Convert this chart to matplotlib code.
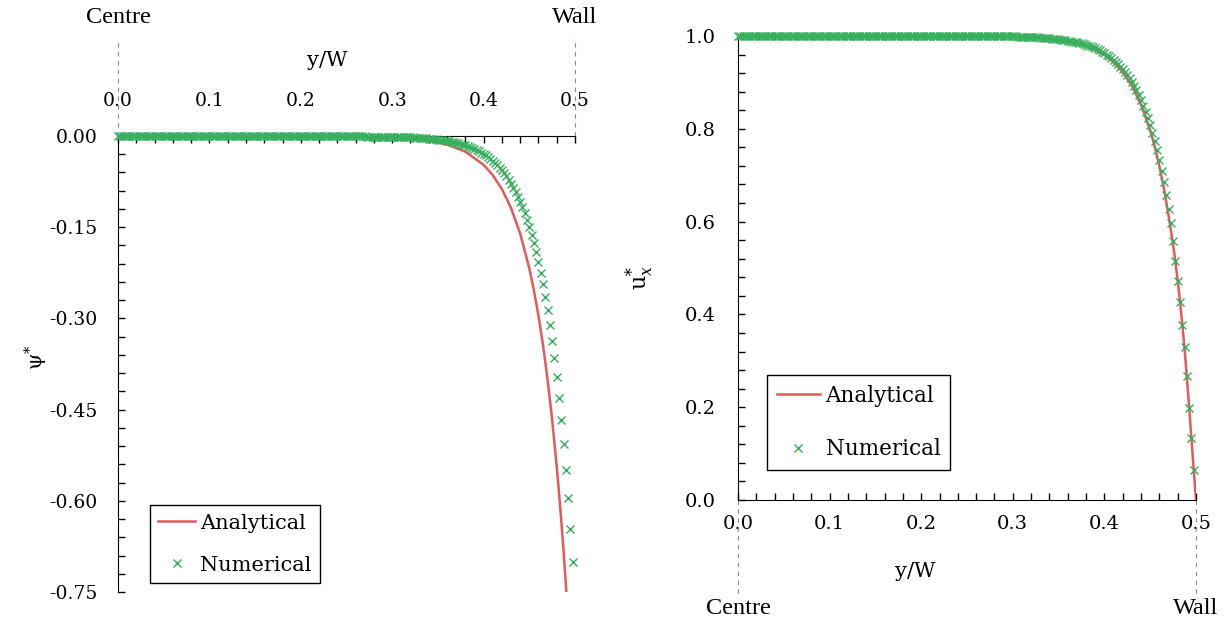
import numpy as np
import matplotlib
matplotlib.use('Agg')
import matplotlib.pyplot as plt
from matplotlib.ticker import MultipleLocator, FormatStrFormatter

plt.rcParams['font.family'] = ['DejaVu Serif']
plt.rcParams['mathtext.fontset'] = 'dejavuserif'

# ---------------- data ----------------
grid_step = 0.0025  # spacing of the numerical points in y/W

# left panel: psi* -- numerical (x from 0 to 0.4975)
psi_num = [
    0.0, 0.0, 0.0, 0.0, 0.0, 0.0, 0.0, 0.0, 0.0, 0.0, 0.0, 0.0, 0.0, 0.0, 0.0, 0.0, 0.0, 0.0, 0.0, 0.0,
    0.0, 0.0, 0.0, 0.0, 0.0, 0.0, 0.0, 0.0, 0.0, 0.0, 0.0, 0.0, 0.0, 0.0, 0.0, 0.0, 0.0, 0.0, 0.0, 0.0,
    0.0, 0.0, 0.0, 0.0, 0.0, 0.0, 0.0, 0.0, 0.0, 0.0, 0.0, 0.0, 0.0, 0.0, 0.0, 0.0, 0.0, 0.0, 0.0, 0.0,
    0.0, 0.0, 0.0, 0.0, 0.0, 0.0, 0.0, 0.0, 0.0, 0.0, 0.0, 0.0, 0.0, 0.0, 0.0, 0.0, 0.0, 0.0, 0.0, 0.0,
    0.0, 0.0, 0.0, 0.0, 0.0, 0.0, 0.0, 0.0, 0.0, 0.0, 0.0, 0.0, 0.0, 0.0, 0.0, 0.0, 0.0, 0.0, 0.0, 0.0,
    -0.0005, -0.0005, -0.0005, -0.0006, -0.0006, -0.0007, -0.0007, -0.0008, -0.0008, -0.0009,
    -0.0009, -0.0009, -0.0010, -0.0010, -0.0010, -0.0010, -0.0010, -0.0011, -0.0011, -0.0011,
    -0.0011, -0.0012, -0.0013, -0.0015, -0.0016, -0.0017, -0.0019, -0.0020, -0.0022, -0.0024,
    -0.0026, -0.0028, -0.0030, -0.0033, -0.0036, -0.0039, -0.0042, -0.0045, -0.0049, -0.0054,
    -0.0058, -0.0063, -0.0068, -0.0074, -0.0080, -0.0087, -0.0095, -0.0103, -0.0111, -0.0121,
    -0.0131, -0.0142, -0.0154, -0.0167, -0.0181, -0.0196, -0.0213, -0.0231, -0.0251, -0.0272,
    -0.0295, -0.0320, -0.0347, -0.0376, -0.0408, -0.0443, -0.0480, -0.0521, -0.0565, -0.0613,
    -0.0664, -0.0721, -0.0782, -0.0848, -0.0919, -0.0997, -0.1082, -0.1173, -0.1272, -0.1380,
    -0.1497, -0.1624, -0.1761, -0.1910, -0.2072, -0.2247, -0.2437, -0.2643, -0.2867, -0.3110,
    -0.3373, -0.3658, -0.3968, -0.4304, -0.4668, -0.5063, -0.5491, -0.5956, -0.6460, -0.7007,
]

# left panel: psi* -- analytical curve
psi_ana_x = [0.0, 0.1, 0.2, 0.25, 0.30, 0.32, 0.34, 0.36, 0.38, 0.40, 0.41, 0.42, 0.43,
             0.44, 0.45, 0.455, 0.46, 0.465, 0.47, 0.475, 0.48, 0.4825, 0.485, 0.4875,
             0.49, 0.4925, 0.495, 0.4975, 0.5]
psi_ana_y = [0.0, 0.0, -0.0001, -0.0005, -0.0022, -0.0041, -0.0076, -0.0140, -0.0257,
             -0.0474, -0.0643, -0.0872, -0.1182, -0.1604, -0.2176, -0.2535, -0.2952,
             -0.3438, -0.4005, -0.4665, -0.5434, -0.5865, -0.6329, -0.6831, -0.7371,
             -0.7955, -0.8586, -0.9266, -1.0]

# right panel: u*_x -- numerical (x from 0 to 0.4975)
u_num = [
    1.0, 1.0, 1.0, 1.0, 1.0, 1.0, 1.0, 1.0, 1.0, 1.0, 1.0, 1.0, 1.0, 1.0, 1.0, 1.0, 1.0, 1.0, 1.0, 1.0,
    1.0, 1.0, 1.0, 1.0, 1.0, 1.0, 1.0, 1.0, 1.0, 1.0, 1.0, 1.0, 1.0, 1.0, 1.0, 1.0, 1.0, 1.0, 1.0, 1.0,
    1.0, 1.0, 1.0, 1.0, 1.0, 1.0, 1.0, 1.0, 1.0, 1.0, 1.0, 1.0, 1.0, 1.0, 1.0, 1.0, 1.0, 1.0, 1.0, 1.0,
    1.0, 1.0, 1.0, 1.0, 1.0, 1.0, 1.0, 1.0, 1.0, 1.0, 1.0, 1.0, 1.0, 1.0, 1.0, 1.0, 1.0, 1.0, 1.0, 1.0,
    1.0, 1.0, 1.0, 1.0, 1.0, 1.0, 1.0, 1.0, 1.0, 1.0, 1.0, 1.0, 1.0, 1.0, 1.0, 1.0, 1.0, 1.0, 1.0, 1.0,
    1.0, 1.0, 1.0, 1.0, 1.0, 1.0, 1.0, 1.0, 1.0, 1.0, 0.999, 0.999, 0.999, 0.999, 0.999, 0.999, 0.999, 0.999, 0.999, 0.999,
    0.999, 0.999, 0.998, 0.998, 0.998, 0.998, 0.998, 0.998, 0.997, 0.997,
    0.997, 0.997, 0.996, 0.996, 0.996, 0.995, 0.995, 0.994, 0.994, 0.993,
    0.993, 0.992, 0.992, 0.991, 0.990, 0.989, 0.988, 0.987, 0.986, 0.985,
    0.984, 0.982, 0.981, 0.979, 0.978, 0.976, 0.974, 0.971, 0.969, 0.966,
    0.963, 0.960, 0.957, 0.953, 0.949, 0.944, 0.940, 0.934, 0.929, 0.923,
    0.916, 0.909, 0.901, 0.892, 0.883, 0.873, 0.862, 0.850, 0.837, 0.823,
    0.808, 0.791, 0.774, 0.754, 0.733, 0.710, 0.685, 0.658, 0.628, 0.597,
    0.558, 0.516, 0.471, 0.426, 0.378, 0.330, 0.268, 0.199, 0.133, 0.064,
]

# right panel: u*_x -- analytical curve
u_ana_x = [0.0, 0.25, 0.30, 0.32, 0.34, 0.36, 0.38, 0.40, 0.41, 0.42, 0.43, 0.44, 0.45,
           0.455, 0.46, 0.465, 0.47, 0.475, 0.4775, 0.48, 0.4825, 0.485, 0.4875, 0.49,
           0.4925, 0.495, 0.4975, 0.5]
u_ana_y = [1.0, 1.0, 0.998, 0.997, 0.994, 0.989, 0.979, 0.959, 0.944, 0.922, 0.893, 0.852,
           0.797, 0.762, 0.720, 0.672, 0.614, 0.551, 0.514, 0.473, 0.428, 0.380, 0.326,
           0.266, 0.200, 0.133, 0.066, 0.0]

psi_ticks = [0.0, -0.15, -0.30, -0.45, -0.60, -0.75]
u_ticks = [0.0, 0.2, 0.4, 0.6, 0.8, 1.0]
x_ticks = [0.0, 0.1, 0.2, 0.3, 0.4, 0.5]

# ---------------- styling ----------------
RED = '#e25a5a'
GREEN = '#36b05c'
GUIDE = '#8a8a8a'
W, H = 1225, 624

fig = plt.figure(figsize=(W / 100, H / 100), dpi=100)
ax1 = fig.add_axes([118 / W, 1 - 592 / H, (575 - 118) / W, (592 - 136) / H])
ax2 = fig.add_axes([738 / W, 1 - 500 / H, (1196 - 738) / W, (500 - 36) / H])

x_num1 = np.arange(len(psi_num)) * grid_step
x_num2 = np.arange(len(u_num)) * grid_step

# ---- left panel ----
la, = ax1.plot(psi_ana_x, psi_ana_y, color=RED, lw=1.8, label='Analytical', zorder=3)
ln, = ax1.plot(x_num1, psi_num, ls='none', marker='x', ms=6, mew=1.0, color=GREEN,
               label='Numerical', clip_on=False, zorder=4)
ax1.set_xlim(0, 0.5)
ax1.set_ylim(-0.75, 0.0)
ax1.spines['bottom'].set_visible(False)
ax1.spines['right'].set_visible(False)
ax1.xaxis.tick_top()
ax1.xaxis.set_label_position('top')
ax1.set_xticks(x_ticks)
ax1.set_yticks(psi_ticks)
ax1.xaxis.set_minor_locator(MultipleLocator(0.02))
ax1.yaxis.set_minor_locator(MultipleLocator(0.03))
ax1.xaxis.set_major_formatter(FormatStrFormatter('%.1f'))
ax1.yaxis.set_major_formatter(FormatStrFormatter('%.2f'))
ax1.tick_params(axis='both', which='both', direction='in', length=5, width=1,
                labelsize=13.5, top=True, bottom=False, right=False)
ax1.tick_params(axis='x', which='major', pad=19)
ax1.tick_params(axis='y', which='major', pad=15)
ax1.set_xlabel('y/W', fontsize=15)
ax1.xaxis.set_label_coords(0.457, 1.153)
ax1.set_ylabel('ψ$^{*}$', fontsize=15)
ax1.yaxis.set_label_coords(-0.148, 0.515)
leg1 = ax1.legend([la, ln], ['Analytical', 'Numerical'], loc='lower left',
                  bbox_to_anchor=(0.07, 0.02), fancybox=False, edgecolor='black',
                  framealpha=1, fontsize=15, handlelength=1.75, handletextpad=0.25,
                  labelspacing=1.1, borderpad=0.4, numpoints=1, borderaxespad=0)
leg1.get_frame().set_linewidth(1.0)

xt1 = ax1.get_xaxis_transform()
for xv, txt in [(0.0, 'Centre'), (0.5, 'Wall')]:
    ax1.plot([xv, xv], [1.0, 1.215], transform=xt1, color=GUIDE, lw=0.8,
             ls=(0, (4, 4)), clip_on=False)
    ax1.text(xv, 1.259, txt, transform=xt1, ha='center', va='center',
             family='Liberation Serif', fontsize=17.5)

# ---- right panel ----
ra, = ax2.plot(u_ana_x, u_ana_y, color=RED, lw=1.8, label='Analytical', zorder=3)
rn, = ax2.plot(x_num2, u_num, ls='none', marker='x', ms=6, mew=1.0, color=GREEN,
               label='Numerical', clip_on=False, zorder=4)
ax2.set_xlim(0, 0.5)
ax2.set_ylim(0.0, 1.0)
ax2.spines['top'].set_visible(False)
ax2.spines['right'].set_visible(False)
ax2.set_xticks(x_ticks)
ax2.set_yticks(u_ticks)
ax2.xaxis.set_minor_locator(MultipleLocator(0.02))
ax2.yaxis.set_minor_locator(MultipleLocator(0.04))
ax2.xaxis.set_major_formatter(FormatStrFormatter('%.1f'))
ax2.yaxis.set_major_formatter(FormatStrFormatter('%.1f'))
ax2.tick_params(axis='both', which='both', direction='in', length=5, width=1,
                labelsize=14, top=False, right=False)
ax2.tick_params(axis='x', which='major', pad=11)
ax2.tick_params(axis='y', which='major', pad=16)
ax2.set_xlabel('y/W', fontsize=15)
ax2.xaxis.set_label_coords(0.386, -0.134)
ax2.set_ylabel('u$^{*}_{x}$', fontsize=16)
ax2.yaxis.set_label_coords(-0.178, 0.48)
leg2 = ax2.legend([ra, rn], ['Analytical', 'Numerical'], loc='lower left',
                  bbox_to_anchor=(0.063, 0.065), fancybox=False, edgecolor='black',
                  framealpha=1, fontsize=15.5, handlelength=2.0, handletextpad=0.28,
                  labelspacing=1.45, borderpad=0.45, numpoints=1, borderaxespad=0)
leg2.get_frame().set_linewidth(1.0)

xt2 = ax2.get_xaxis_transform()
for xv, txt in [(0.0, 'Centre'), (0.5, 'Wall')]:
    ax2.plot([xv, xv], [0.0, -0.207], transform=xt2, color=GUIDE, lw=0.8,
             ls=(0, (4, 4)), clip_on=False)
    ax2.text(xv, -0.233, txt, transform=xt2, ha='center', va='center',
             family='Liberation Serif', fontsize=17.5)

fig.savefig('out.png', dpi=100)
